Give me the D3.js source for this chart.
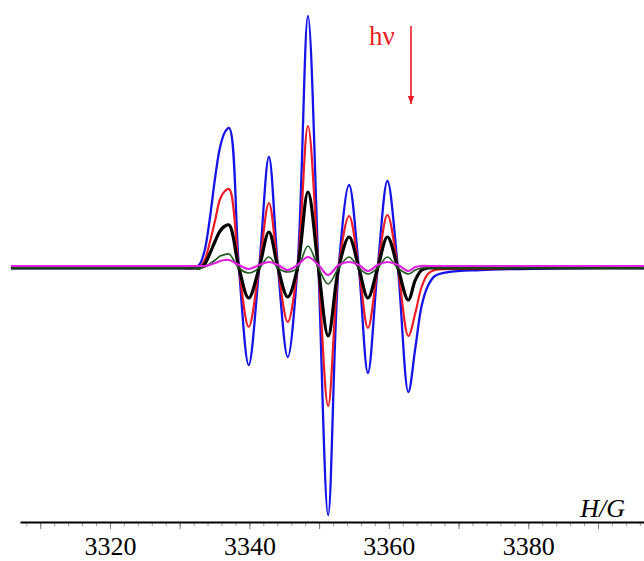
<!DOCTYPE html>
<html>
<head>
<meta charset="utf-8">
<script src="https://cdn.jsdelivr.net/npm/d3@7"></script>
<style>
  html, body { margin: 0; padding: 0; background: #fff; }
  svg { display: block; }
</style>
</head>
<body>
<svg id="chart" width="644" height="561"></svg>
<script>
// Magnetic field (G) sample positions
const field = [3305.8, 3315.0, 3325.0, 3330.5, 3332.2, 3332.9, 3333.6, 3334.3, 3335.1, 3335.8,
               3336.5, 3337.1, 3338.5, 3339.9, 3341.4, 3342.8, 3344.1, 3345.5, 3346.9, 3348.4,
               3349.9, 3351.3, 3352.8, 3354.3, 3355.7, 3357.0, 3358.4, 3359.8, 3361.3, 3362.8,
               3363.8, 3364.7, 3365.6, 3366.6, 3368.5, 3373.1, 3378.8, 3388.0, 3396.6];

// EPR signal (arbitrary units) for each irradiation stage
const blue    = [0, 0, 0, 0, 0, 4, 18, 48, 91, 121, 136, 140, 0, -97, 0, 111, 0, -89, 0, 252,
                 0, -247, 0, 83, 0, -105, 0, 87, 0, -124, -80, -38, -18, -8, -4, -2, -1, 0, 0];
const red     = [0, 0, 0, 0, 0, 1, 8, 25, 48, 69, 77, 79, 0, -59, 0, 65, 0, -54, 0, 142,
                 0, -138, 0, 52, 0, -60, 0, 53, 0, -68, -45, -19, -6, -2, -1, -1, 0, 0, 0];
const black   = [0, 0, 0, 0, 0, 0, 4, 14, 27, 37, 42, 43, 0, -30, 0, 36, 0, -29, 0, 76,
                 0, -68, 0, 31, 0, -30, 0, 31, 0, -32, -12, -2, 0, 0, 0, 0, 0, 0, 0];
const green   = [0, 0, 0, 0, 0, 0, 1, 4, 8, 12, 13.5, 14, 0, -5, 0, 11, 0, -4, 0, 22,
                 0, -16, 0, 11, 0, -6, 0, 11, 0, -6, -2, 0, 0, 0, 0, 0, 0, 0, 0];
const magenta = [2, 2, 2, 2, 2, 2, 2, 3, 5, 7, 8, 8, 3, -1, 3, 6, 3, -2, 3, 11,
                 3, -7, 3, 6, 3, -3, 3, 6, 3, -3, 1, 2, 2, 2, 2, 2, 2, 2, 2];

const seriesNames  = ["blue", "red", "black", "green", "magenta"];
const seriesValues = [blue, red, black, green, magenta];
const seriesColors = ["#1414e6", "#ee1c24", "#000000", "#1f5a1f", "#e020e0"];
const seriesWidths = [2.3, 2.2, 3.2, 1.7, 2.2];

const tickLabels = [3320, 3340, 3360, 3380];
const minorTicks = d3.range(3308, 3397, 2);
const majorTicks = d3.range(3310, 3397, 10);

const svg = d3.select("#chart");
const x = d3.scaleLinear().domain([3307.1, 3396.6]).range([20, 644]);
const y = d3.scaleLinear().domain([0, 100]).range([268, 168]);

// curves
const line = d3.line()
  .x((d, i) => x(field[i]))
  .y(d => y(d))
  .curve(d3.curveCatmullRom.alpha(0.5));

seriesValues.forEach((vals, k) => {
  svg.append("path")
    .datum(vals)
    .attr("class", "series " + seriesNames[k])
    .attr("fill", "none")
    .attr("stroke", seriesColors[k])
    .attr("stroke-width", seriesWidths[k])
    .attr("stroke-linejoin", "round")
    .attr("d", line);
});

// x axis
const axisY = 522;
const gMinor = svg.append("g").attr("transform", `translate(0,${axisY})`)
  .call(d3.axisBottom(x).tickValues(minorTicks).tickSize(4).tickSizeOuter(0).tickFormat(""));
gMinor.select(".domain").remove();
gMinor.selectAll(".tick line").attr("stroke", "#9a9a9a").attr("stroke-width", 1);

const gMajor = svg.append("g").attr("transform", `translate(0,${axisY})`)
  .call(d3.axisBottom(x).tickValues(majorTicks).tickSize(7).tickSizeOuter(0).tickFormat(""));
gMajor.select(".domain").remove();
gMajor.selectAll(".tick line").attr("stroke", "#777").attr("stroke-width", 1);

const gLab = svg.append("g").attr("transform", `translate(0,${axisY})`)
  .call(d3.axisBottom(x).tickValues(tickLabels).tickSize(0).tickSizeOuter(0).tickFormat(d3.format("d")));
gLab.select(".domain").attr("stroke", "#000").attr("stroke-width", 2);
gLab.selectAll(".tick text")
  .attr("y", 33).attr("dy", null)
  .attr("font-family", "'Liberation Serif', 'DejaVu Serif', serif")
  .attr("font-size", 26).attr("fill", "#000");

svg.append("text")
  .attr("x", 625).attr("y", 517)
  .attr("text-anchor", "end")
  .attr("font-family", "'Liberation Serif', serif")
  .attr("font-style", "italic")
  .attr("font-size", 26)
  .text("H/G");

// h-nu annotation with arrow
svg.append("defs").append("marker")
  .attr("id", "arr").attr("viewBox", "0 0 10 10")
  .attr("refX", 10).attr("refY", 5)
  .attr("markerWidth", 5).attr("markerHeight", 5)
  .attr("orient", "auto")
  .append("path").attr("d", "M0,1 L10,5 L0,9 Z").attr("fill", "#ee1c24");

svg.append("text")
  .attr("x", 369).attr("y", 45)
  .attr("font-family", "'Liberation Serif', serif")
  .attr("font-size", 27)
  .attr("fill", "#ee1c24")
  .text("hν");

svg.append("line")
  .attr("x1", 411).attr("y1", 26).attr("x2", 411).attr("y2", 104)
  .attr("stroke", "#ee1c24").attr("stroke-width", 1.6)
  .attr("marker-end", "url(#arr)");
</script>
</body>
</html>
